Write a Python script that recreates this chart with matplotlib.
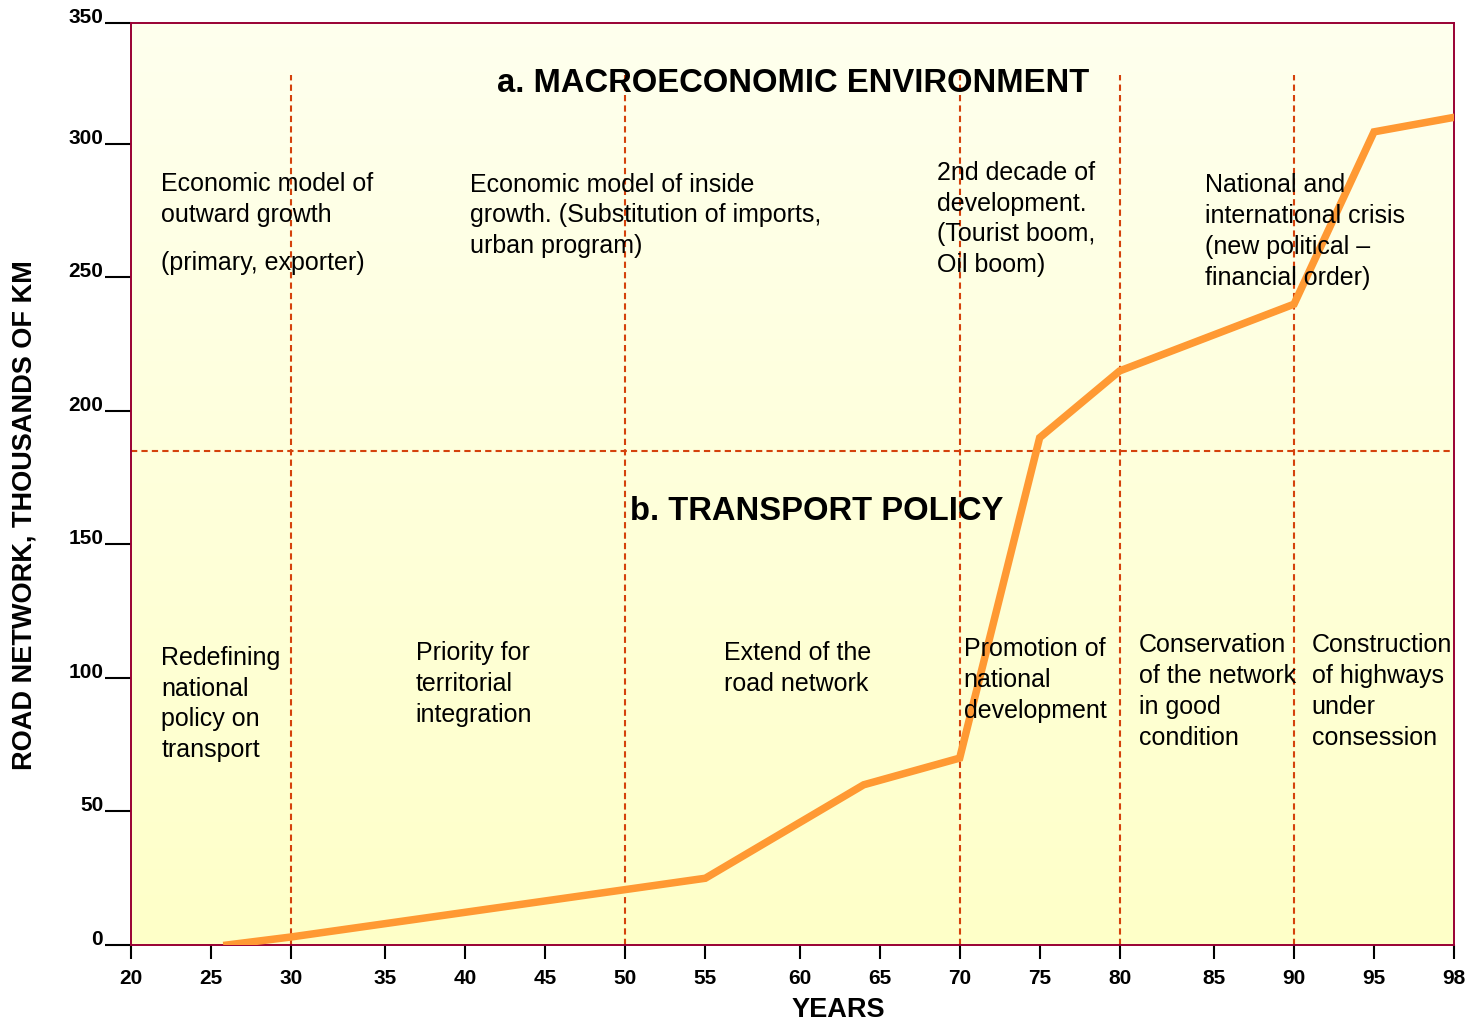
#Road network growth with policy periods
import numpy as np
import matplotlib
matplotlib.use('Agg')
import matplotlib.pyplot as plt
from matplotlib.colors import LinearSegmentedColormap

plt.rcParams['font.family'] = ['Liberation Sans', 'DejaVu Sans']

# data
years = [26, 30, 55, 64, 70, 75, 80, 90, 95, 98]
road_km = [0, 3, 25, 60, 70, 190, 215, 240, 305, 311]

x_ticks = [20, 25, 30, 35, 40, 45, 50, 55, 60, 65, 70, 75, 80, 85, 90, 95, 98]
y_ticks = [0, 50, 100, 150, 200, 250, 300, 350]
period_breaks = [30, 50, 70, 80, 90]
section_split = 185

# uneven axis spacing of the original drawing
x_gaps = [1, 1, 1.18, 1, 1, 1, 1, 1.18, 1, 1, 1, 1, 1.18, 1, 1, 1]
x_pos = np.concatenate([[0], np.cumsum(x_gaps)])
y_knots = [0, 300, 350]
y_pos = [0, 300, 345.3]

fig = plt.figure(figsize=(14.71, 10.21), dpi=100)
rect = [131 / 1471, 76 / 1021, 1323 / 1471, 922 / 1021]

# background gradient
bg = fig.add_axes(rect, zorder=0)
cmap = LinearSegmentedColormap.from_list('bg', ['#FEFFEE', '#FFFFC8'])
bg.imshow(np.linspace(0, 1, 256).reshape(-1, 1), cmap=cmap, aspect='auto',
          extent=[0, 1, 0, 1])
bg.axis('off')

ax = fig.add_axes(rect, zorder=1)
ax.patch.set_alpha(0)
ax.set_xscale('function', functions=(lambda v: np.interp(v, x_ticks, x_pos),
                                     lambda p: np.interp(p, x_pos, x_ticks)))
ax.set_yscale('function', functions=(lambda v: np.interp(v, y_knots, y_pos),
                                     lambda p: np.interp(p, y_pos, y_knots)))
ax.set_xlim(20, 98)
ax.set_ylim(0, 350)

# dashed dividers
dash_col = '#D4420C'
for yr in period_breaks:
    ax.plot([yr, yr], [0, 328.5], color=dash_col, lw=1.5, ls=(0, (3, 2)), zorder=2)
ax.axhline(section_split, color=dash_col, lw=1.5, ls=(0, (3, 2)), zorder=2)

ax.plot(years, road_km, color='#FF9933', lw=5.4, solid_joinstyle='miter', zorder=3)

# section titles
ax.text(59.63, 321.5, 'a. MACROECONOMIC ENVIRONMENT', ha='center', va='baseline',
        fontsize=23.6, fontweight='bold')
ax.text(61.06, 159.2, 'b. TRANSPORT POLICY', ha='center', va='baseline',
        fontsize=23.6, fontweight='bold')

fs = 18
ls = 1.36
line_step = 11.72  # one text line in y units
# (x, baseline of first line, text)
notes = [
    (21.9, 282.5, 'Economic model of\noutward growth'),
    (21.9, 252.8, '(primary, exporter)'),
    (40.3, 282.5, 'Economic model of inside\ngrowth. (Substitution of imports,\nurban program)'),
    (68.6, 287.1, '2nd decade of\ndevelopment.\n(Tourist boom,\nOil boom)'),
    (84.5, 282.5, 'National and\ninternational crisis\n(new political \u2013\nfinancial order)'),
    (21.9, 105.5, 'Redefining\nnational\npolicy on\ntransport'),
    (36.9, 107.0, 'Priority for\nterritorial\nintegration'),
    (56.0, 107.0, 'Extend of the\nroad network'),
    (70.25, 108.5, 'Promotion of\nnational\ndevelopment'),
    (81.0, 110.2, 'Conservation\nof the network\nin good\ncondition'),
    (91.1, 110.2, 'Construction\nof highways\nunder\nconsession'),
]
for x, y, txt in notes:
    n = txt.count('\n')
    ax.text(x, y - n * line_step, txt, va='baseline', fontsize=fs,
            linespacing=ls, zorder=4)

# axes styling
for s in ax.spines.values():
    s.set_color('#990033')
    s.set_linewidth(1.4)
ax.set_xticks(x_ticks)
ax.set_xticklabels([str(v) for v in x_ticks])
ax.set_yticks(y_ticks)
ax.set_yticklabels([str(v) for v in y_ticks])
ax.minorticks_off()
ax.tick_params(axis='x', length=10, width=1.5, pad=7, labelsize=15)
ax.tick_params(axis='y', length=19, width=1.5, pad=1, labelsize=15)
for lab in ax.get_xticklabels():
    lab.set_fontweight('bold')
for lab in ax.get_yticklabels():
    lab.set_fontweight('bold')
    lab.set_va('baseline')

ax.set_xlabel('YEARS', fontsize=19.5, fontweight='bold')
ax.set_ylabel('ROAD NETWORK, THOUSANDS OF KM', fontsize=19.5, fontweight='bold')
ax.xaxis.set_label_coords(0.5344, -0.0564)
ax.yaxis.set_label_coords(-0.0703, 0.466)

plt.savefig('out.png', dpi=100)
